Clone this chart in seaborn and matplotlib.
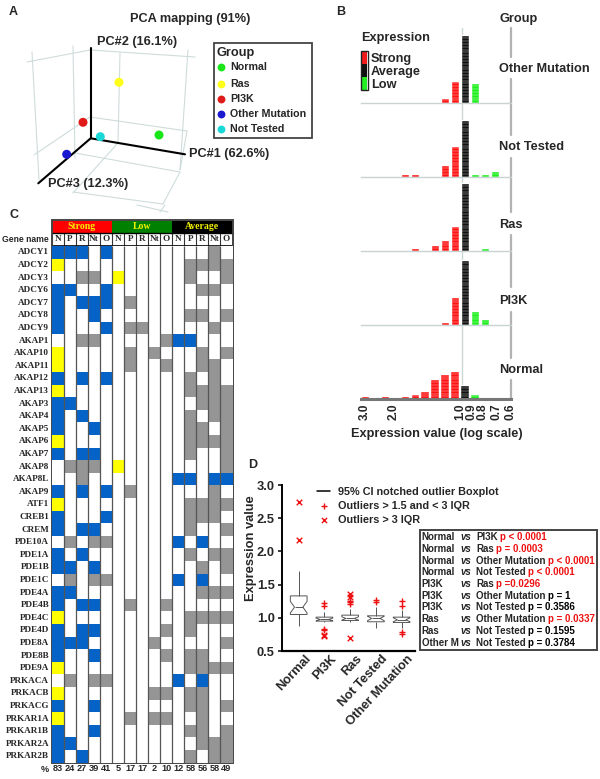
import numpy as np
import pandas as pd
import seaborn as sns
from matplotlib import pyplot as plt
from matplotlib.colors import ListedColormap
from matplotlib.patches import Rectangle
from matplotlib.transforms import ScaledTranslation

# panel A, screen positions of the five group centroids
pca_groups = ["Normal", "Ras", "PI3K", "Other Mutation", "Not Tested"]
pca_colors = ["#19e619", "#ffff19", "#e01919", "#1919d0", "#19d8d8"]
pca_x = [159, 119, 83, 66.7, 100.3]
pca_y = [135, 82.3, 122.3, 154.3, 136.7]

# panel B, gene counts per expression bin (bin 0 = 3.0 ... bin 14 = 0.6)
hist_groups = ["Other Mutation", "Not Tested", "Ras", "PI3K", "Normal"]
hist_bins = {
    "Other Mutation": [8, 9, 10, 11],
    "Not Tested": [4, 5, 8, 9, 10, 11, 12, 13],
    "Ras": [5, 7, 8, 9, 10, 12],
    "PI3K": [8, 9, 10, 11, 12],
    "Normal": [0, 2, 4, 5, 6, 7, 8, 9, 10, 11],
}
hist_counts = {
    "Other Mutation": [2, 8, 24, 7],
    "Not Tested": [1, 1, 4, 11, 20, 1, 1, 2],
    "Ras": [1, 2, 4, 9, 24, 1],
    "PI3K": [1, 10, 23, 5, 2],
    "Normal": [1, 1, 1, 2, 3, 7, 9, 10, 5, 2],
}
hist_kinds = {
    "Other Mutation": "SSAL",
    "Not Tested": "SSSSALLL",
    "Ras": "SSSSAL",
    "PI3K": "SSALL",
    "Normal": "SSSSSSSSAL",
}
hist_tick_pos = [0, 2.9, 9.6, 10.67, 11.8, 13.2, 14.67]
hist_tick_labels = ["3.0", "2.0", "1.0", "0.9", "0.8", "0.7", "0.6"]

# panel C, calls per gene: B blue, Y yellow, G gray, . empty
genes = ["ADCY1", "ADCY2", "ADCY3", "ADCY6", "ADCY7", "ADCY8", "ADCY9", "AKAP1", "AKAP10", "AKAP11",
         "AKAP12", "AKAP13", "AKAP3", "AKAP4", "AKAP5", "AKAP6", "AKAP7", "AKAP8", "AKAP8L", "AKAP9",
         "ATF1", "CREB1", "CREM", "PDE10A", "PDE1A", "PDE1B", "PDE1C", "PDE4A", "PDE4B", "PDE4C",
         "PDE4D", "PDE8A", "PDE8B", "PDE9A", "PRKACA", "PRKACB", "PRKACG", "PRKAR1A", "PRKAR1B",
         "PRKAR2A", "PRKAR2B"]
strong_calls = ["BBB.B", "Y....", "..GG.", "BB..B", "B.BBB", "B..B.", "B...B", "..GG.", "Y....", "Y....",
                "B.B.B", "Y....", "BB...", "B.B..", "B..B.", "Y....", "B.BB.", ".GGG.", "..G..", "B.B.B",
                "Y....", "B...B", "B.BB.", ".G.GG", "B.B..", "BB.B.", ".G.GG", "BB...", "B.BB.", "Y....",
                "B.BB.", "BBB..", "B..B.", "Y....", ".G.GG", "Y....", "B..B.", "Y....", "B..B.", "BB...",
                "B.B.."]
low_calls = [".....", ".....", "Y....", ".....", ".G...", ".....", ".GG..", "....G", ".G.G.", ".G..G",
             ".....", ".....", ".....", ".....", ".....", ".....", ".....", "Y....", ".....", ".G...",
             ".....", ".....", ".....", ".....", ".....", ".....", ".....", ".....", ".G..G", ".....",
             "....G", "...G.", "....G", ".....", ".....", "...GG", ".....", ".G.GG", ".....", ".....",
             "....."]
avg_calls = ["...G.", ".GGGG", ".G..G", "..GG.", ".....", ".GG.G", "...G.", "BB...", "..G.G", "..GG.",
             ".G.G.", ".GGGG", "..GGG", ".G.GG", ".GG.G", ".GGGG", ".G..G", "....G", "BB.BB", "...G.",
             ".GGGG", ".GGG.", ".G..G", "B.B..", ".G.GG", "..G.G", "B.B..", "..GGG", ".....", ".GGGG",
             ".G...", "....G", ".GG..", ".GGGG", "B.B..", ".GG..", ".GG.G", "..G..", ".GG.G", "..GGG",
             ".G.GG"]
column_tags = ["N", "P", "R", "Nt", "O"] * 3
percent_labels = ["83", "24", "27", "39", "41", "5", "17", "17", "2", "10", "12", "58", "56", "58", "49"]

# panel D, values behind each box, outliers listed on their own
box_groups = ["Normal", "PI3K", "Ras", "Not Tested", "Other Mutation"]
box_core = {
    "Normal": [0.87, 1.05, 1.05, 1.05, 1.05, 1.05, 1.05, 1.16, 1.16, 1.16, 1.16, 1.16, 1.16,
               1.33, 1.33, 1.33, 1.33, 1.33, 1.33, 1.45, 1.55, 1.60, 1.70],
    "PI3K": [0.93, 0.95, 0.975, 0.975, 0.975, 0.975, 0.975, 1.01, 1.01, 1.01, 1.01, 1.01, 1.04, 1.08, 1.08],
    "Ras": [0.93, 0.96, 0.96, 0.96, 0.96, 0.96, 0.99, 0.99, 0.99, 0.99, 0.99, 0.99, 1.04, 1.04, 1.04, 1.04,
            1.04, 1.04, 1.14],
    "Not Tested": [0.84, 0.94, 0.94, 0.94, 0.94, 0.99, 0.99, 0.99, 0.99, 1.03, 1.03, 1.03, 1.03, 1.10, 1.16],
    "Other Mutation": [0.85, 0.93, 0.93, 0.97, 0.97, 0.97, 0.97, 1.01, 1.01, 1.01, 1.01, 1.12, 1.12],
}
mild_outliers = {
    "Normal": [],
    "PI3K": [1.18, 1.22, 0.82, 0.83],
    "Ras": [1.21, 1.24, 1.26],
    "Not Tested": [1.24, 1.27],
    "Other Mutation": [1.18, 1.26, 0.76, 0.78],
}
far_outliers = {
    "Normal": [2.17, 2.74],
    "PI3K": [0.72, 0.74],
    "Ras": [1.31, 1.36, 0.70],
    "Not Tested": [],
    "Other Mutation": [],
}
cmp_left = ["Normal", "Normal", "Normal", "Normal", "PI3K", "PI3K", "PI3K", "Ras", "Ras", "Other M"]
cmp_right = ["PI3K", "Ras", "Other Mutation", "Not Tested", "Ras", "Other Mutation", "Not Tested",
             "Other Mutation", "Not Tested", "Not Tested"]
cmp_p = ["p < 0.0001", "p = 0.0003", "p < 0.0001", "p < 0.0001", "p =0.0296", "p = 1", "p = 0.3586",
         "p = 0.0337", "p = 0.1595", "p = 0.3784"]
cmp_sig = [True, True, True, True, True, False, False, True, False, False]

sns.set_style("white")
plt.rcParams["font.family"] = ["Liberation Sans", "DejaVu Sans"]
plt.rcParams["font.weight"] = "bold"
plt.rcParams["axes.labelweight"] = "bold"

W, H = 600, 779
fig = plt.figure(figsize=(W / 100, H / 100), dpi=100)


def px_axes(x0, y0, x1, y1):
    # axes from picture pixels (top left, bottom right)
    ax = fig.add_axes([x0 / W, 1 - y1 / H, (x1 - x0) / W, (y1 - y0) / H], zorder=1)
    ax.patch.set_visible(False)
    return ax


# full figure layer in pixel units, everything else sits on top of it
page = fig.add_axes([0, 0, 1, 1], zorder=0)
page.set_xlim(0, W)
page.set_ylim(H, 0)
page.axis("off")

for letter, lx, ly in [("A", 13, 12), ("B", 341, 12), ("C", 14, 215), ("D", 253, 465)]:
    page.text(lx, ly, letter, fontsize=9, ha="center", va="center")

# ---- A
page.text(190, 19, "PCA mapping (91%)", fontsize=9.2, ha="center", va="center")
box_lines = [((27, 62), (90, 50)), ((90, 50), (195, 57)), ((32, 52), (39, 180)), ((73, 46), (75, 158)),
             ((120, 53), (118, 143)), ((188, 50), (180, 170)), ((90, 117), (187, 131)), ((34, 155), (90, 117)),
             ((75, 153), (180, 172)), ((118, 143), (73, 193)), ((73, 192), (163, 204)), ((163, 204), (180, 172)),
             ((187, 131), (180, 170)), ((137, 205), (168, 212)), ((160, 212), (165, 205))]
for a, b in box_lines:
    page.plot([a[0], b[0]], [a[1], b[1]], color="#cfdcdc", lw=0.8, zorder=1)
for end in [(90.7, 48.3), (185, 154.3), (38.3, 183.3)]:
    page.plot([90.7, end[0]], [138.3, end[1]], color="black", lw=1.5, zorder=2)
sns.scatterplot(x=pca_x, y=pca_y, hue=pca_groups, palette=pca_colors, s=42, linewidth=0, legend=False, ax=page, zorder=3)
page.set_xlim(0, W)
page.set_ylim(H, 0)
page.axis("off")
page.text(97, 42, "PC#2 (16.1%)", fontsize=9.2, va="center")
page.text(189, 154, "PC#1 (62.6%)", fontsize=9.2, va="center")
page.text(48, 184, "PC#3 (12.3%)", fontsize=9.2, va="center")
page.add_patch(Rectangle((213.5, 43), 98, 94.5, fill=False, ec="#444444", lw=1.3))
page.text(216.5, 52.5, "Group", fontsize=9.2, va="center")
for name, col, ly in zip(pca_groups, pca_colors, [67, 84, 99, 114, 129]):
    page.scatter([221], [ly], s=32, color=col, linewidth=0)
    page.text(230, ly, name, fontsize=7.7, va="center")

# ---- B
hist_palette = {"S": "#ff1414", "A": "#111111", "L": "#1ef01e"}
hist_base = dict(zip(hist_groups, [103.3, 176.7, 251, 325, 399.3]))
unit_px = 2.83
page.plot([461.7, 461.7], [28, 399], color="#ccd8d8", lw=1, zorder=1)
gray_runs = [(28, 57), (79, 135), (158, 212), (235, 287), (312, 358), (380, 399)]
for y0, y1 in gray_runs:
    page.plot([511, 511], [y0, y1], color="#b2b2b2", lw=1.6, zorder=1)
for group in hist_groups:
    base = hist_base[group]
    ax = px_axes(361, base - 26 * unit_px, 511, base)
    table = pd.DataFrame({"bin": hist_bins[group], "count": hist_counts[group], "kind": list(hist_kinds[group])})
    sns.barplot(data=table, x="bin", y="count", hue="kind", palette=hist_palette, dodge=False, native_scale=True,
                width=0.85, saturation=1, legend=False, ax=ax)
    # white stripes only across each bar, one per gene
    for bar in list(ax.patches):
        if bar.get_height() > 0:
            ax.hlines(np.arange(1, bar.get_height()), bar.get_x(), bar.get_x() + bar.get_width(),
                      color="white", lw=0.3, alpha=0.8)
    ax.set_xlim(-0.4, 14.6)
    ax.set_ylim(0, 26)
    ax.set_yticks([])
    ax.set_xlabel("")
    ax.set_ylabel("")
    sns.despine(ax=ax, left=True)
    if group == "Normal":
        ax.spines["bottom"].set_color("#777777")
        ax.spines["bottom"].set_linewidth(2.2)
        ax.set_xticks(hist_tick_pos, hist_tick_labels, rotation=90, fontsize=8.6)
        ax.tick_params(axis="x", length=0, pad=3)
    else:
        ax.spines["bottom"].set_color("#c8d4d4")
        ax.spines["bottom"].set_linewidth(1)
        ax.set_xticks([])
page.text(437, 434, "Expression value (log scale)", fontsize=9.2, ha="center", va="center")
for name, ly in zip(["Group", "Other Mutation", "Not Tested", "Ras", "PI3K", "Normal"], [19, 69, 147, 225, 301, 370]):
    page.text(499, ly, name, fontsize=9.2, va="center")
page.text(361, 38, "Expression", fontsize=9.2, va="center")
for col, y0 in zip(["#f21a1a", "#111111", "#22ee22"], [51, 64, 77]):
    page.add_patch(Rectangle((361, y0), 6, 13, color=col, lw=0))
page.add_patch(Rectangle((361, 50.5), 6.5, 39.5, fill=False, ec="#222222", lw=1))
for name, ly in zip(["Strong", "Average", "Low"], [59, 72, 85]):
    page.text(371, ly, name, fontsize=9.2, va="center")

# ---- C
call_code = {".": 0, "B": 1, "Y": 2, "G": 3}
calls = [s + l + a for s, l, a in zip(strong_calls, low_calls, avg_calls)]
call_matrix = pd.DataFrame([[call_code[c] for c in row] for row in calls], index=genes)
cell_cmap = ListedColormap(["white", "#0563c8", "#ffff00", "#959595"])
ax = px_axes(52, 246, 232.5, 762.7)
sns.heatmap(call_matrix, cmap=cell_cmap, vmin=0, vmax=3, cbar=False, xticklabels=percent_labels, yticklabels=genes, ax=ax)
ax.vlines(np.arange(1, 15), 0, 41, color="#555555", lw=0.9)
ax.tick_params(axis="both", length=0)
ax.tick_params(axis="x", pad=1, labelsize=6.6, rotation=0)
ax.tick_params(axis="y", pad=2, labelsize=6.6, rotation=0)
for lab in ax.get_yticklabels():
    lab.set_family("Liberation Serif")
ax.set_xlabel("")
ax.set_ylabel("")
page.text(45, 769, "%", fontsize=6.6, ha="center", va="center")
for name, col, x0 in zip(["Strong", "Low", "Average"], ["#ff0000", "#008000", "#000000"], [52, 112.2, 172.3]):
    page.add_patch(Rectangle((x0, 220.5), 60.2, 12, color=col, lw=0))
    page.text(x0 + 30, 226.5, name, color="#f2f200", fontsize=7, family="Liberation Serif", ha="center", va="center")
for i, tag in enumerate(column_tags):
    page.text(52 + 12.03 * (i + 0.5), 239, tag, fontsize=6.6, family="Liberation Serif", ha="center", va="center")
    page.plot([52 + 12.03 * i] * 2, [233, 246], color="#333333", lw=0.8)
page.plot([52, 232.5], [245.7, 245.7], color="black", lw=1.2)
page.plot([52, 232.5], [232.7, 232.7], color="black", lw=1)
page.add_patch(Rectangle((51.5, 219.5), 181.5, 543.5, fill=False, ec="#444444", lw=1.4, zorder=5))
page.text(49, 239, "Gene name", fontsize=6.2, ha="right", va="center")

# ---- D
box_rows = []
for group in box_groups:
    for v in box_core[group] + mild_outliers[group] + far_outliers[group]:
        box_rows.append({"group": group, "value": v})
box_table = pd.DataFrame(box_rows)
ax = px_axes(281.7, 485, 415, 651)
sns.boxplot(data=box_table, x="group", y="value", order=box_groups, notch=True, showfliers=False, showcaps=False,
            width=0.65, color="white", linecolor="#555555", linewidth=0.7, ax=ax)
for store, mark in [(mild_outliers, "+"), (far_outliers, "x")]:
    xs = [box_groups.index(g) for g in box_groups for _ in store[g]]
    ys = [v for g in box_groups for v in store[g]]
    sns.scatterplot(x=xs, y=ys, marker=mark, color="#ee1111", s=16, linewidth=1, ax=ax, zorder=3)
ax.set_xlim(-0.66, 4.52)
ax.set_ylim(0.5, 3.0)
ax.set_yticks([0.5, 1.0, 1.5, 2.0, 2.5, 3.0], ["0.5", "1.0", "1.5", "2.0", "2.5", "3.0"])
ax.set_xticks(range(5), box_groups, rotation=47, ha="right", rotation_mode="anchor")
ax.tick_params(axis="both", length=3, width=1.3, left=True, bottom=False, pad=2)
ax.tick_params(axis="x", labelsize=9.3)
ax.tick_params(axis="y", labelsize=9.3)
# labels sit closer to the axis and a bit right of the box centres
nudge = ScaledTranslation(0.055, 0.05, fig.dpi_scale_trans)
for lab in ax.get_xticklabels():
    lab.set_transform(lab.get_transform() + nudge)
ax.set_xlabel("")
ax.set_ylabel("Expression value", fontsize=9.3)
ax.yaxis.set_label_coords(-0.185, 0.62)
sns.despine(ax=ax)
ax.spines["left"].set_linewidth(1.4)
ax.spines["bottom"].set_linewidth(1.6)
ax.spines["left"].set_color("black")
ax.spines["bottom"].set_color("black")

page.plot([317, 330], [491, 491], color="black", lw=1.1)
page.scatter([323.5], [505.7], marker="+", color="#ee1111", s=16, linewidth=1)
page.scatter([323.5], [520], marker="x", color="#ee1111", s=14, linewidth=1)
for txt, ly in zip(["95% CI notched outlier Boxplot", "Outliers > 1.5 and < 3 IQR", "Outliers > 3 IQR"], [491.7, 505.7, 520]):
    page.text(338, ly, txt, fontsize=7.8, va="center")

page.add_patch(Rectangle((419.5, 529.5), 177, 120, fill=False, ec="#444444", lw=1.4))
for i in range(len(cmp_left)):
    ly = 537.3 + 11.7 * i
    page.text(421.7, ly, cmp_left[i], fontsize=7, va="center")
    page.text(460, ly, "vs", fontsize=7, style="italic", va="center")
    right = page.text(476, ly, cmp_right[i], fontsize=7, va="center")
    page.annotate(cmp_p[i], xy=(1, 0.5), xycoords=right, xytext=(1.8, 0), textcoords="offset points", fontsize=7,
                  va="center", color="#ee1111" if cmp_sig[i] else "black")

fig.savefig("out.png", dpi=100)
